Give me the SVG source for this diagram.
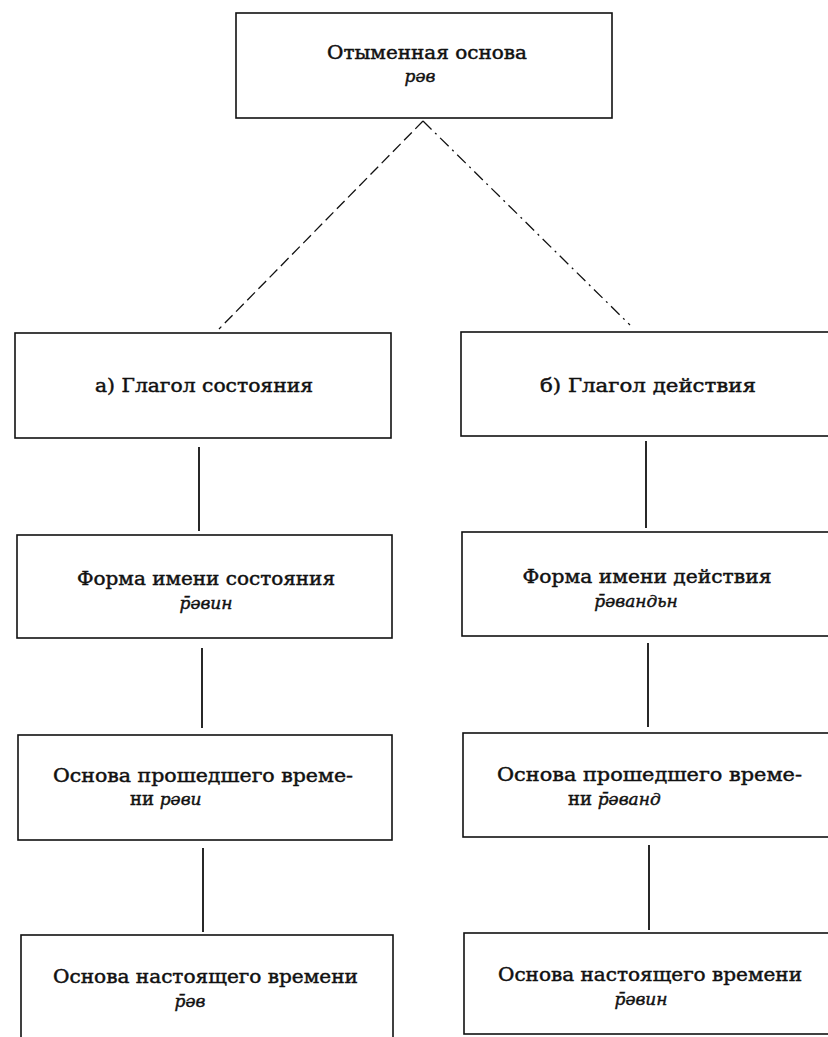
<svg xmlns="http://www.w3.org/2000/svg" width="828" height="1037" viewBox="0 0 828 1037">
<style>
.box{fill:none;stroke:#111;stroke-width:1.6}
.t{font-family:'DejaVu Serif','Liberation Serif',serif;font-size:18px;font-weight:normal;fill:#111;stroke:#111;stroke-width:0.45}
.c{text-anchor:middle}
.i{font-style:italic;font-size:17px}
.v{stroke:#111;stroke-width:1.8;fill:none}
.d{stroke:#111;stroke-width:1.3;fill:none;stroke-dasharray:12 5 2 5}
.d2{stroke:#111;stroke-width:1.3;fill:none;stroke-dasharray:11 5}
</style>
<rect width="828" height="1037" fill="#fff"/>
<g id="connectors">
<line class="d2" x1="423" y1="121" x2="219" y2="329"/>
<line class="d" x1="423" y1="121" x2="630" y2="325"/>
<line class="v" x1="199" y1="447" x2="199" y2="531"/>
<line class="v" x1="646" y1="441" x2="646" y2="528"/>
<line class="v" x1="202" y1="648" x2="202" y2="728"/>
<line class="v" x1="648" y1="643" x2="648" y2="727"/>
<line class="v" x1="203" y1="848" x2="203" y2="932"/>
<line class="v" x1="649" y1="845" x2="649" y2="930"/>
</g>
<g id="root">
<rect class="box" x="236" y="13" width="376" height="105"/>
<text class="t c" x="427" y="59" textLength="200" lengthAdjust="spacingAndGlyphs">Отыменная основа</text>
<text class="t c i" x="420" y="82">рәв</text>
</g>
<g id="state">
<rect class="box" x="15" y="333" width="376" height="105"/>
<text class="t c" x="204" y="392" textLength="218" lengthAdjust="spacingAndGlyphs">а) Глагол состояния</text>
</g>
<g id="action">
<rect class="box" x="461" y="332" width="370" height="104"/>
<text class="t c" x="648" y="392" textLength="216" lengthAdjust="spacingAndGlyphs">б) Глагол  действия</text>
</g>
<g id="state-noun">
<rect class="box" x="17" y="535" width="375" height="103"/>
<text class="t c" x="206" y="585" textLength="258" lengthAdjust="spacingAndGlyphs">Форма имени состояния</text>
<text class="t c i" x="206" y="609">р̄әвин</text>
</g>
<g id="action-noun">
<rect class="box" x="462" y="532" width="369" height="104"/>
<text class="t c" x="647" y="583" textLength="249" lengthAdjust="spacingAndGlyphs">Форма имени действия</text>
<text class="t c i" x="636" y="607">р̄әвандьн</text>
</g>
<g id="state-past">
<rect class="box" x="18" y="735" width="374" height="105"/>
<text class="t" x="53" y="782" textLength="300" lengthAdjust="spacingAndGlyphs">Основа  прошедшего  време-</text>
<text class="t" x="130" y="805">ни <tspan class="i">рәви</tspan></text>
</g>
<g id="action-past">
<rect class="box" x="463" y="733" width="368" height="104"/>
<text class="t" x="497" y="781" textLength="305" lengthAdjust="spacingAndGlyphs">Основа прошедшего  време-</text>
<text class="t" x="568" y="805">ни <tspan class="i">р̄әванд</tspan></text>
</g>
<g id="state-present">
<rect class="box" x="21" y="935" width="372" height="120"/>
<text class="t" x="53" y="983" textLength="305" lengthAdjust="spacingAndGlyphs">Основа настоящего времени</text>
<text class="t c i" x="190" y="1007">р̄әв</text>
</g>
<g id="action-present">
<rect class="box" x="464" y="933" width="367" height="101"/>
<text class="t" x="498" y="981" textLength="304" lengthAdjust="spacingAndGlyphs">Основа настоящего времени</text>
<text class="t c i" x="641" y="1005">р̄әвин</text>
</g>
</svg>
